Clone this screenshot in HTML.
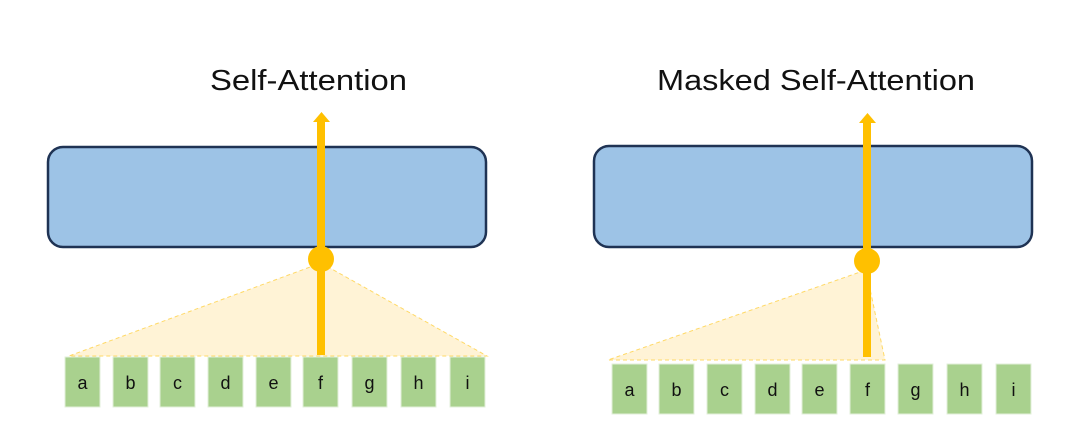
<!DOCTYPE html>
<html><head><style>body{margin:0;background:#fff}svg{display:block}</style></head><body>
<svg width="1080" height="436" viewBox="0 0 1080 436" xmlns="http://www.w3.org/2000/svg" font-family="Liberation Sans, sans-serif">
<text x="210" y="90" font-size="29" textLength="197" lengthAdjust="spacingAndGlyphs" fill="#111">Self-Attention</text>
<text x="657" y="90" font-size="29" textLength="318" lengthAdjust="spacingAndGlyphs" fill="#111">Masked Self-Attention</text>
<!-- left -->
<rect x="48" y="147" width="438" height="100" rx="15" fill="#9dc3e6" stroke="#1f3354" stroke-width="2.5"/>
<polygon points="321,263 487,356 69,356" fill="#fff3d6" stroke="#ffd966" stroke-width="1" stroke-dasharray="4,3"/>
<line x1="321" y1="122" x2="321" y2="355" stroke="#ffc000" stroke-width="8"/>
<polygon points="313,122 330,122 321.5,112" fill="#ffc000"/>
<circle cx="321" cy="259" r="13" fill="#ffc000"/>
<g fill="#a9d18e" stroke="#e2efda" stroke-width="1">
<rect x="65" y="357" width="35" height="50"/><rect x="113" y="357" width="35" height="50"/><rect x="160" y="357" width="35" height="50"/><rect x="208" y="357" width="35" height="50"/><rect x="256" y="357" width="35" height="50"/><rect x="303" y="357" width="35" height="50"/><rect x="352" y="357" width="35" height="50"/><rect x="401" y="357" width="35" height="50"/><rect x="450" y="357" width="35" height="50"/>
</g>
<g font-size="18" text-anchor="middle" fill="#111">
<text x="82.5" y="389">a</text><text x="130.5" y="389">b</text><text x="177.5" y="389">c</text><text x="225.5" y="389">d</text><text x="273.5" y="389">e</text><text x="320.5" y="389">f</text><text x="369.5" y="389">g</text><text x="418.5" y="389">h</text><text x="467.5" y="389">i</text>
</g>
<!-- right -->
<rect x="594" y="146" width="438" height="101" rx="15" fill="#9dc3e6" stroke="#1f3354" stroke-width="2.5"/>
<polygon points="866,270 885,360 608,360" fill="#fff3d6" stroke="#ffd966" stroke-width="1" stroke-dasharray="4,3"/>
<line x1="867" y1="123" x2="867" y2="357" stroke="#ffc000" stroke-width="8"/>
<polygon points="859,123 876,123 867.5,113" fill="#ffc000"/>
<circle cx="867" cy="261" r="13" fill="#ffc000"/>
<g fill="#a9d18e" stroke="#e2efda" stroke-width="1">
<rect x="612" y="364" width="35" height="50"/><rect x="659" y="364" width="35" height="50"/><rect x="707" y="364" width="35" height="50"/><rect x="755" y="364" width="35" height="50"/><rect x="802" y="364" width="35" height="50"/><rect x="850" y="364" width="35" height="50"/><rect x="898" y="364" width="35" height="50"/><rect x="947" y="364" width="35" height="50"/><rect x="996" y="364" width="35" height="50"/>
</g>
<g font-size="18" text-anchor="middle" fill="#111">
<text x="629.5" y="396">a</text><text x="676.5" y="396">b</text><text x="724.5" y="396">c</text><text x="772.5" y="396">d</text><text x="819.5" y="396">e</text><text x="867.5" y="396">f</text><text x="915.5" y="396">g</text><text x="964.5" y="396">h</text><text x="1013.5" y="396">i</text>
</g>
</svg>
</body></html>
